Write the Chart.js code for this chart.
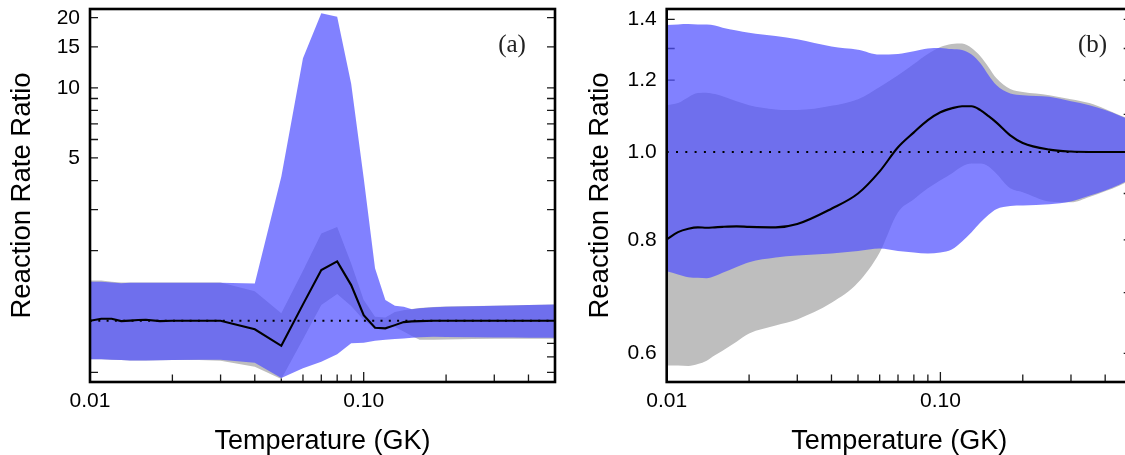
<!DOCTYPE html>
<html>
<head>
<meta charset="utf-8">
<script src="https://cdn.jsdelivr.net/npm/chart.js@4.4.1/dist/chart.umd.min.js"></script>
<style>
  html, body { margin: 0; padding: 0; background: #fff; }
  body { width: 1125px; height: 455px; overflow: hidden; position: relative; }
  canvas { position: absolute; top: 0; width: 565px; height: 455px; }
  #panelA { left: 0; }
  #panelB { left: 575px; }
</style>
</head>
<body>
<canvas id="panelA" width="565" height="455"></canvas>
<canvas id="panelB" width="565" height="455"></canvas>
<script>
// Temperature grid (GK)
const temperatures = [0.01, 0.011, 0.012, 0.013, 0.014, 0.015, 0.016, 0.018, 0.02, 0.025,
  0.03, 0.04, 0.05, 0.06, 0.07, 0.08, 0.09, 0.1, 0.11, 0.12,
  0.13, 0.14, 0.15, 0.16, 0.18, 0.2, 0.25, 0.3, 0.35, 0.4, 0.45, 0.5];

// Panel (a): rate ratio bands and median
const grayLowA  = [0.683, 0.683, 0.68, 0.678, 0.676, 0.676, 0.676, 0.677, 0.678, 0.678,
  0.673, 0.635, 0.563, 0.834, 1.168, 1.302, 1.156, 1.007, 0.928, 0.933,
  0.94, 0.90, 0.86, 0.83, 0.83, 0.832, 0.835, 0.837, 0.838, 0.838, 0.838, 0.838];
const grayHighA = [1.49, 1.49, 1.47, 1.46, 1.46, 1.46, 1.46, 1.46, 1.46, 1.46,
  1.46, 1.34, 1.076, 1.64, 2.37, 2.53, 1.763, 1.227, 1.040, 1.034,
  1.090, 1.111, 1.123, 1.134, 1.145, 1.151, 1.156, 1.16, 1.165, 1.17, 1.173, 1.176];
const blueLowA  = [0.683, 0.683, 0.68, 0.678, 0.676, 0.676, 0.676, 0.677, 0.678, 0.68,
  0.68, 0.66, 0.568, 0.625, 0.667, 0.719, 0.80, 0.805, 0.821, 0.83,
  0.835, 0.84, 0.845, 0.85, 0.855, 0.852, 0.85, 0.848, 0.847, 0.846, 0.845, 0.845];
const blueHighA = [1.47, 1.47, 1.46, 1.45, 1.455, 1.455, 1.455, 1.455, 1.455, 1.455,
  1.455, 1.447, 4.15, 13.4, 20.9, 20.2, 10.4, 4.1, 1.68, 1.227,
  1.16, 1.15, 1.122, 1.133, 1.144, 1.15, 1.155, 1.159, 1.164, 1.169, 1.172, 1.175];
const medianA   = [1.0, 1.02, 1.02, 0.997, 1.002, 1.007, 1.01, 0.997, 1.0, 1.0,
  1.0, 0.919, 0.781, 1.176, 1.651, 1.799, 1.423, 1.058, 0.933, 0.928,
  0.958, 0.987, 0.994, 0.997, 1.0, 1.0, 1.0, 1.0, 1.0, 1.0, 1.0, 1.0];

// Panel (b): rate ratio bands and median
const grayLowB  = [0.582, 0.582, 0.581, 0.584, 0.589, 0.597, 0.604, 0.618, 0.631, 0.644,
  0.654, 0.682, 0.718, 0.775, 0.858, 0.887, 0.912, 0.931, 0.947, 0.964,
  0.971, 0.971, 0.964, 0.947, 0.912, 0.903, 0.882, 0.880, 0.892, 0.905, 0.918, 0.932];
const grayHighB = [1.126, 1.132, 1.149, 1.161, 1.162, 1.158, 1.152, 1.137, 1.126, 1.114,
  1.112, 1.124, 1.143, 1.179, 1.215, 1.250, 1.282, 1.305, 1.315, 1.317,
  1.302, 1.275, 1.240, 1.206, 1.173, 1.164, 1.155, 1.143, 1.132, 1.115, 1.098, 1.084];
const blueLowB  = [0.739, 0.733, 0.728, 0.727, 0.726, 0.730, 0.736, 0.747, 0.756, 0.765,
  0.769, 0.773, 0.778, 0.783, 0.778, 0.775, 0.773, 0.775, 0.781, 0.797,
  0.816, 0.836, 0.853, 0.865, 0.872, 0.873, 0.876, 0.882, 0.895, 0.907, 0.920, 0.935];
const blueHighB = [1.380, 1.382, 1.383, 1.382, 1.382, 1.378, 1.370, 1.361, 1.353, 1.342,
  1.331, 1.307, 1.296, 1.280, 1.282, 1.291, 1.300, 1.302, 1.298, 1.295,
  1.280, 1.252, 1.215, 1.185, 1.160, 1.155, 1.150, 1.137, 1.126, 1.112, 1.097, 1.083];
const medianB   = [0.801, 0.816, 0.823, 0.826, 0.825, 0.826, 0.827, 0.828, 0.827, 0.826,
  0.833, 0.866, 0.900, 0.952, 1.012, 1.051, 1.084, 1.106, 1.117, 1.123,
  1.123, 1.112, 1.095, 1.078, 1.043, 1.023, 1.006, 1.001, 1.0, 1.0, 1.0, 1.0];

// Axis ticks and labels
const xTickValues = [0.01, 0.02, 0.03, 0.04, 0.05, 0.06, 0.07, 0.08, 0.09, 0.1, 0.2, 0.3, 0.4, 0.5];
const xTickText   = ['0.01', '', '', '', '', '', '', '', '', '0.10', '', '', '', ''];
const xMajorTicks = [0.01, 0.1];
const yTickValuesA = [0.6, 0.7, 0.8, 0.9, 1, 2, 3, 4, 5, 6, 7, 8, 9, 10, 15, 20];
const yTickTextA   = ['', '', '', '', '', '', '', '', '5', '', '', '', '', '10', '15', '20'];
const yTickValuesB = [0.6, 0.7, 0.8, 0.9, 1.0, 1.1, 1.2, 1.3, 1.4];
const yTickTextB   = ['0.6', '', '0.8', '', '1.0', '', '1.2', '', '1.4'];
const unityLevel = 1;

const SANS = '"Liberation Sans", Arial, Helvetica, sans-serif';
const GRAY = '#bebebe';
const BLUE = 'rgba(80, 80, 255, 0.72)';

// Inward tick marks, box frame and panel tag
const frameTicks = {
  id: 'frameTicks',
  beforeDatasetsDraw(chart, args, opts) {
    const { ctx, chartArea: a, scales: { x, y } } = chart;
    ctx.save();
    ctx.strokeStyle = '#1a1a1a';
    ctx.lineWidth = 1.3;
    ctx.beginPath();
    x.ticks.forEach(t => {
      const px = x.getPixelForValue(t.value);
      const len = xMajorTicks.includes(t.value) ? 10 : 7.5;
      ctx.moveTo(px, a.bottom);
      ctx.lineTo(px, a.bottom - len);
    });
    y.ticks.forEach(t => {
      const py = y.getPixelForValue(t.value);
      ctx.moveTo(a.left, py); ctx.lineTo(a.left + 8, py);
      ctx.moveTo(a.right, py); ctx.lineTo(a.right - 8, py);
    });
    ctx.stroke();
    ctx.restore();
  },
  afterDatasetsDraw(chart, args, opts) {
    const { ctx, chartArea: a } = chart;
    ctx.save();
    ctx.strokeStyle = '#000';
    ctx.lineWidth = 2.6;
    ctx.strokeRect(a.left, a.top, a.right - a.left, a.bottom - a.top);
    ctx.fillStyle = '#222';
    ctx.font = '25px "Liberation Serif", "Times New Roman", serif';
    ctx.textAlign = 'center';
    ctx.textBaseline = 'middle';
    ctx.fillText(opts.tag, opts.tagX, opts.tagY);
    ctx.restore();
  }
};

function series(values) {
  return values.map((v, i) => ({ x: temperatures[i], y: v }));
}

function buildPanel(canvasId, cfg) {
  const band = (values, fill, color, order, smooth) => ({
    data: series(values),
    borderWidth: 0,
    borderColor: 'transparent',
    backgroundColor: color,
    pointRadius: 0,
    fill: fill,
    order: order,
    cubicInterpolationMode: smooth ? 'monotone' : 'default',
    tension: 0
  });
  const xFirst = xTickValues[0];
  const xLast = xTickValues[xTickValues.length - 1];
  return new Chart(document.getElementById(canvasId), {
    type: 'line',
    data: {
      datasets: [
        band(cfg.grayLow, false, GRAY, 5, cfg.smooth),
        band(cfg.grayHigh, '-1', GRAY, 4, cfg.smooth),
        band(cfg.blueLow, false, BLUE, 3, cfg.smooth),
        band(cfg.blueHigh, '-1', BLUE, 2, cfg.smooth),
        {
          data: [{ x: xFirst, y: unityLevel }, { x: xLast, y: unityLevel }],
          borderColor: '#000', borderWidth: 2, borderDash: cfg.dash,
          pointRadius: 0, fill: false, order: 1
        },
        {
          data: series(cfg.median),
          borderColor: '#000', borderWidth: 2.1, pointRadius: 0, fill: false,
          order: 0, cubicInterpolationMode: cfg.smooth ? 'monotone' : 'default', tension: 0
        }
      ]
    },
    options: {
      responsive: false,
      animation: false,
      devicePixelRatio: 1,
      layout: { padding: { left: 0, top: 9, right: cfg.padRight, bottom: 0 } },
      plugins: {
        legend: { display: false },
        tooltip: { enabled: false },
        frameTicks: { tag: cfg.tag, tagX: cfg.tagX, tagY: 45 }
      },
      scales: {
        x: {
          type: 'logarithmic',
          min: xFirst, max: xLast,
          grid: { display: false, drawTicks: false },
          border: { display: false },
          afterBuildTicks: s => { s.ticks = xTickValues.map(v => ({ value: v })); },
          afterFit: s => { s.height = 73; s.paddingLeft = 0; s.paddingRight = 0; },
          ticks: {
            autoSkip: false, maxRotation: 0, minRotation: 0, padding: 7,
            color: '#000', font: { family: SANS, size: 21 },
            callback: (v, i) => xTickText[i]
          },
          title: {
            display: true, text: 'Temperature (GK)', color: '#000',
            font: { family: SANS, size: 27, lineHeight: 1 },
            padding: { top: 0, bottom: 0 }
          }
        },
        y: {
          type: 'logarithmic',
          min: cfg.yMin, max: cfg.yMax,
          grid: { display: false, drawTicks: false },
          border: { display: false },
          afterBuildTicks: s => { s.ticks = cfg.yTicks.map(v => ({ value: v })); },
          afterFit: s => { s.width = cfg.yWidth; s.paddingTop = 0; s.paddingBottom = 0; },
          ticks: {
            autoSkip: false, padding: 10,
            color: '#000', font: { family: SANS, size: 21 },
            callback: (v, i) => cfg.yText[i]
          },
          title: {
            display: true, text: 'Reaction Rate Ratio', color: '#000',
            font: { family: SANS, size: 27.5, lineHeight: 1 },
            padding: { top: cfg.titlePad, bottom: 0 }
          }
        }
      }
    },
    plugins: [frameTicks]
  });
}

buildPanel('panelA', {
  grayLow: grayLowA, grayHigh: grayHighA, blueLow: blueLowA, blueHigh: blueHighA,
  median: medianA, yTicks: yTickValuesA, yText: yTickTextA,
  yMin: 0.546, yMax: 21.8, yWidth: 90, padRight: 10, titlePad: 9,
  tag: '(a)', tagX: 512, smooth: false, dash: [2, 6.3]
});

buildPanel('panelB', {
  grayLow: grayLowB, grayHigh: grayHighB, blueLow: blueLowB, blueHigh: blueHighB,
  median: medianB, yTicks: yTickValuesB, yText: yTickTextB,
  yMin: 0.558, yMax: 1.437, yWidth: 91.7, padRight: 8.3, titlePad: 11.3,
  tag: '(b)', tagX: 517.5, smooth: true, dash: [2, 7.3]
});
</script>
</body>
</html>
